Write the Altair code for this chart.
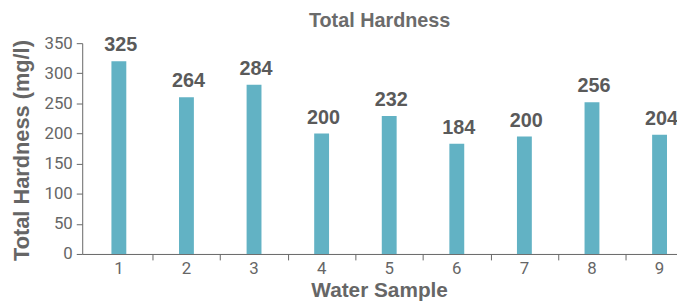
import altair as alt
import pandas as pd

samples = ["1", "2", "3", "4", "5", "6", "7", "8", "9"]
hardness_labels = [325, 264, 284, 200, 232, 184, 200, 256, 204]
bar_heights = [320, 260, 281, 200, 229, 183, 195, 252, 198]
y_ticks = [0, 50, 100, 150, 200, 250, 300, 350]

df = pd.DataFrame({
    "sample": samples,
    "height": bar_heights,
    "label": [str(v) for v in hardness_labels],
})

GRAY = "#666666"
xscale = alt.Scale(paddingInner=0.78, paddingOuter=0.29, align=0.745)
yscale = alt.Scale(domain=[0, 350], nice=False)

y_enc = alt.Y(
    "height:Q",
    scale=yscale,
    axis=alt.Axis(
        values=y_ticks,
        title="Total Hardness (mg/l)",
        grid=False,
        tickSize=6,
        labelPadding=4,
        titleX=-61,
        titleY=108,
        titleAngle=-90,
        titleAlign="center",
        titleBaseline="middle",
        titleFontSize=22,
    ),
)

# bars: carry the axis with tick marks placed between the bars
bars = alt.Chart(df).mark_bar(color="#62b2c4").encode(
    x=alt.X(
        "sample:O",
        sort=samples,
        scale=xscale,
        axis=alt.Axis(
            orient="bottom",
            labels=False,
            title=None,
            tickSize=6,
            tickOffset=34,
        ),
    ),
    y=y_enc,
)

# value labels: carry the axis with category labels and title
labels = alt.Chart(df).mark_text(
    dy=-10,
    dx=2,
    baseline="alphabetic",
    fontWeight="bold",
    fontSize=20,
    color="#5a5a5a",
    font="Liberation Sans",
).encode(
    x=alt.X(
        "sample:O",
        sort=samples,
        scale=xscale,
        axis=alt.Axis(
            orient="bottom",
            title="Water Sample",
            labelAngle=0,
            ticks=False,
            domain=False,
            labelPadding=7,
            titleX=300,
            titleY=43,
            titleAlign="center",
            titleBaseline="alphabetic",
        ),
    ),
    y=y_enc,
    text="label:N",
)

chart = (
    alt.layer(bars, labels)
    .resolve_axis(x="independent")
    .properties(
        width=601,
        height=213,
        title=alt.TitleParams(
            "Total Hardness",
            anchor="middle",
            offset=3,
            fontSize=20,
            font="Liberation Sans",
            fontWeight="bold",
            color="#6b6b6b",
        ),
        autosize=alt.AutoSizeParams(type="none"),
        padding={"left": 75, "top": 34, "right": 0, "bottom": 46},
    )
    .configure_view(stroke=None)
    .configure_axis(
        domainColor=GRAY,
        tickColor=GRAY,
        labelColor=GRAY,
        titleColor=GRAY,
        labelFont="Roboto",
        labelFontSize=17,
        titleFont="Liberation Sans",
        titleFontWeight="bold",
        titleFontSize=21,
    )
)

chart.save("out.html", embed_options={"renderer": "svg", "actions": False})
